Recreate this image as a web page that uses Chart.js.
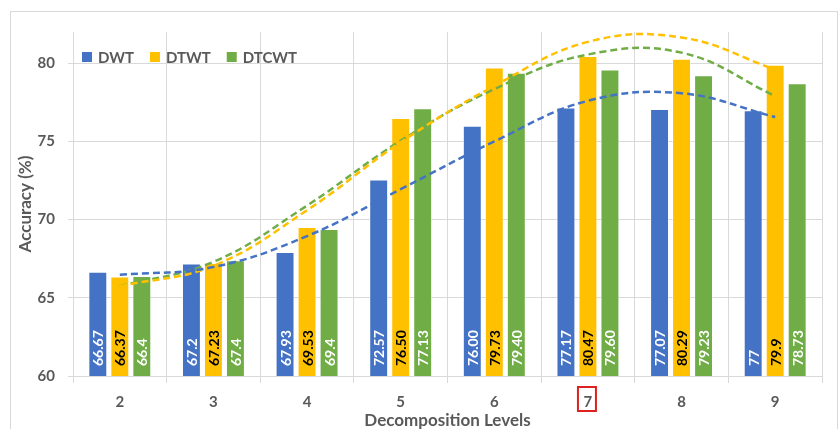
<!DOCTYPE html>
<html>
<head>
<meta charset="utf-8">
<script src="https://cdn.jsdelivr.net/npm/chart.js@4/dist/chart.umd.min.js"></script>
<style>
  html, body { margin: 0; padding: 0; background: #ffffff; }
  #wrap { width: 840px; height: 429px; position: relative; }
</style>
</head>
<body>
<div id="wrap"><canvas id="c" width="840" height="429"></canvas></div>
<script>
// ---- data ----
const categories = ['2', '3', '4', '5', '6', '7', '8', '9'];
const seriesNames = ['DWT', 'DTWT', 'DTCWT'];

const dwtValues   = [66.67, 67.2, 67.93, 72.57, 76.00, 77.17, 77.07, 77];
const dtwtValues  = [66.37, 67.23, 69.53, 76.50, 79.73, 80.47, 80.29, 79.9];
const dtcwtValues = [66.4, 67.4, 69.4, 77.13, 79.40, 79.60, 79.23, 78.73];

const dwtLabels   = ['66.67', '67.2', '67.93', '72.57', '76.00', '77.17', '77.07', '77'];
const dtwtLabels  = ['66.37', '67.23', '69.53', '76.50', '79.73', '80.47', '80.29', '79.9'];
const dtcwtLabels = ['66.4', '67.4', '69.4', '77.13', '79.40', '79.60', '79.23', '78.73'];

// trend lines (dashed), read at each category centre
const dwtTrend   = [66.47, 66.97, 68.95, 71.95, 75.0, 77.6, 78.08, 76.56];
const dtwtTrend  = [65.75, 67.05, 70.6, 74.95, 78.55, 81.37, 81.65, 79.6];
const dtcwtTrend = [65.75, 67.3, 70.9, 75.05, 78.35, 80.56, 80.68, 77.9];

const yTickValues = [60, 65, 70, 75, 80];
const yMin = 60;
const yMax = 82;
const highlightedCategory = '7';

// ---- styling ----
const colors = ['#4472C4', '#FFC000', '#70AD47'];
const labelColors = ['#FFFFFF', '#000000', '#FFFFFF'];
const textGray = '#595959';
const gridGray = '#D9D9D9';
const FONT = 'Lato, "Open Sans", "Liberation Sans", sans-serif';

const barValues = [dwtValues, dtwtValues, dtcwtValues];
const barTexts = [dwtLabels, dtwtLabels, dtcwtLabels];
const trends = [dwtTrend, dtwtTrend, dtcwtTrend];

const datasets = [];
seriesNames.forEach((name, i) => {
  datasets.push({
    type: 'bar',
    label: name,
    data: barValues[i],
    backgroundColor: colors[i],
    borderColor: 'rgba(255,255,255,0.55)',
    borderWidth: 1,
    categoryPercentage: 0.705,
    barPercentage: 0.86,
    order: 1
  });
});
seriesNames.forEach((name, i) => {
  datasets.push({
    type: 'line',
    label: name + ' trend',
    data: trends[i],
    borderColor: colors[i],
    borderWidth: 2.5,
    borderDash: [7, 4],
    pointRadius: 0,
    pointHoverRadius: 0,
    fill: false,
    tension: 0.4,
    order: 0
  });
});

const framePlugin = {
  id: 'frame',
  beforeDraw(chart) {
    const ctx = chart.ctx;
    ctx.save();
    ctx.fillStyle = '#ffffff';
    ctx.fillRect(0, 0, chart.width, chart.height);
    ctx.strokeStyle = gridGray;
    ctx.lineWidth = 1;
    ctx.strokeRect(10.5, 11.5, 827, 440);
    ctx.restore();
  }
};

const valueTextPlugin = {
  id: 'valueText',
  afterDraw(chart) {
    const ctx = chart.ctx;
    const baseY = chart.scales.y.getPixelForValue(yMin);
    ctx.save();
    ctx.font = 'bold 14px ' + FONT;
    ctx.textAlign = 'left';
    ctx.textBaseline = 'middle';
    for (let i = 0; i < barTexts.length; i++) {
      const meta = chart.getDatasetMeta(i);
      const els = meta.data || [];
      for (let j = 0; j < els.length; j++) {
        const px = els[j].x;
        ctx.save();
        ctx.translate(px + 1, baseY - 10);
        ctx.rotate(-Math.PI / 2);
        ctx.fillStyle = labelColors[i];
        ctx.fillText(String(barTexts[i][j]), 0, 0);
        ctx.restore();
      }
    }
    ctx.restore();
  }
};

const legendPlugin = {
  id: 'customLegend',
  afterDraw(chart) {
    const ctx = chart.ctx;
    ctx.save();
    ctx.font = 'bold 15px ' + FONT;
    ctx.textBaseline = 'middle';
    ctx.textAlign = 'left';
    let x = chart.chartArea.left + 9;
    const y = chart.chartArea.top + 25;
    seriesNames.forEach((name, i) => {
      ctx.fillStyle = colors[i];
      ctx.fillRect(x, y - 5, 10, 10);
      ctx.fillStyle = textGray;
      ctx.fillText(name, x + 16, y + 1);
      x += 16 + ctx.measureText(name).width + 16;
    });
    ctx.restore();
  }
};

const highlightPlugin = {
  id: 'highlight',
  afterDraw(chart) {
    const xs = chart.scales.x;
    const idx = categories.indexOf(highlightedCategory);
    if (idx < 0) return;
    const cx = xs.getPixelForValue(idx);
    const ctx = chart.ctx;
    ctx.save();
    ctx.strokeStyle = '#E0201F';
    ctx.lineWidth = 2;
    ctx.strokeRect(cx - 10, xs.top + 11, 18, 24);
    ctx.restore();
  }
};

new Chart(document.getElementById('c'), {
  type: 'bar',
  data: { labels: categories, datasets },
  plugins: [framePlugin, valueTextPlugin, legendPlugin, highlightPlugin],
  options: {
    responsive: false,
    animation: false,
    devicePixelRatio: 1,
    layout: { padding: { top: 32, right: 18, left: 0, bottom: 0 } },
    plugins: {
      legend: { display: false },
      tooltip: { enabled: false },
      title: { display: false }
    },
    scales: {
      x: {
        offset: true,
        grid: {
          display: true,
          offset: true,
          color: gridGray,
          lineWidth: 1,
          drawTicks: true,
          tickLength: 7
        },
        border: { display: true, color: gridGray },
        ticks: {
          color: textGray,
          font: { family: FONT, size: 15, weight: 'bold' },
          padding: 10,
          maxRotation: 0
        },
        title: {
          display: true,
          text: 'Decomposition Levels',
          color: textGray,
          font: { family: FONT, size: 17, weight: 'bold' },
          padding: { top: 0, bottom: -2 }
        },
        afterFit(scale) { scale.height = 53; }
      },
      y: {
        min: yMin,
        max: yMax,
        afterBuildTicks(scale) {
          scale.ticks = yTickValues.map(v => ({ value: v }));
        },
        grid: {
          color: gridGray,
          lineWidth: 1,
          drawTicks: true,
          tickLength: 5
        },
        border: { display: false },
        ticks: {
          color: textGray,
          font: { family: FONT, size: 15, weight: 'bold' },
          padding: 13
        },
        title: {
          display: true,
          text: 'Accuracy (%)',
          color: textGray,
          font: { family: FONT, size: 17, weight: 'bold' },
          padding: { top: 15, bottom: 0 }
        },
        afterFit(scale) { scale.width = 73; }
      }
    }
  }
});
</script>
</body>
</html>
